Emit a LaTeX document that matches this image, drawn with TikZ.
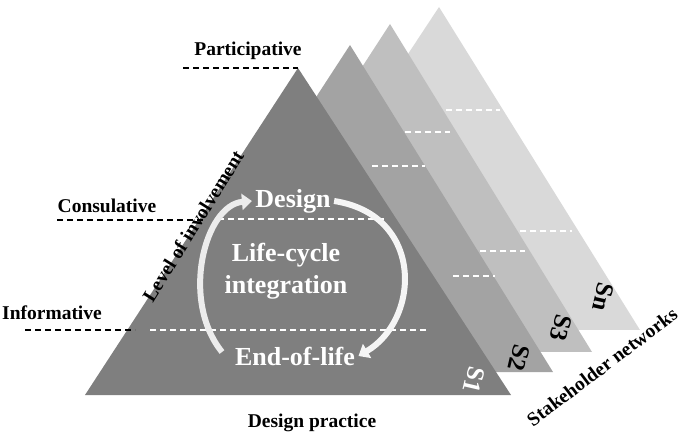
\documentclass[tikz,border=0pt]{standalone}
\usepackage{fontspec}
\setmainfont{Liberation Serif}
\usetikzlibrary{arrows.meta}
\definecolor{cA}{HTML}{7F7F7F}
\definecolor{cB}{HTML}{A3A3A3}
\definecolor{cC}{HTML}{BFBFBF}
\definecolor{cD}{HTML}{D9D9D9}
\begin{document}
\begin{tikzpicture}[x=1pt,y=-1pt,
  wd/.style={white,dashed,line width=1.3pt,dash pattern=on 6pt off 4pt},
  bd/.style={black,dashed,line width=1.5pt,dash pattern=on 6pt off 4pt},
  lbl/.style={font=\bfseries\fontsize{19.5}{22}\selectfont,inner sep=0pt},
  wl/.style={font=\bfseries\fontsize{26}{32}\selectfont,text=white},
  sl/.style={font=\bfseries\fontsize{25}{27}\selectfont,rotate=-103}]
\useasboundingbox (0,0) rectangle (685,435);
\fill[cD] (439,7) -- (640,330) -- (226,330) -- cycle;
\fill[cC] (390,24) -- (592,352) -- (177,352) -- cycle;
\fill[cB] (350,45) -- (553,372) -- (137,372) -- cycle;
\draw[wd] (446,110) -- (500,110) (520,231) -- (572,231);
\draw[wd] (405,132) -- (450,132) (480,251) -- (525,251);
\draw[wd] (372,166) -- (425,166) (453,276) -- (495,276);
\fill[cA] (298,68) -- (511,395) -- (85,395) -- cycle;
\draw[wd] (218,219) -- (385,219);
\draw[wd] (150,330) -- (428,330);
\draw[bd] (183,68) -- (298,68);
\draw[bd] (57,220) -- (205,220);
\draw[bd] (25,330) -- (135,330);
\node[lbl] (p) at (248,51) {Participative};
\node[lbl] (c) at (107,206) {Consulative};
\node[lbl] (i) at (52,313) {Informative};
\node[lbl,rotate=58] (lv) at (193,226) {Level of involvement};
\node[lbl] (dp) at (312,423) {Design practice};
\node[lbl,rotate=37] (sn) at (602,367) {Stakeholder networks};
\node[wl] (d) at (293,201) {Design};
\node[wl,align=center] (lc) at (286,271) {Life-cycle\\integration};
\node[wl] (e) at (295,356) {End-of-life};
\draw[line width=6pt,white!85!gray,-{Triangle[length=10pt,width=16pt]}] (222,352) .. controls (180,300) and (205,205) .. (d.west);
\draw[line width=6pt,white!92!gray,-{Triangle[length=10pt,width=16pt]}] (d.east) .. controls (425,215) and (420,320) .. (e.east);
\node[sl,text=white] (s1) at (474,380) {S1};
\node[sl] (s2) at (519,358) {S2};
\node[sl] (s3) at (561,328) {S3};
\node[sl] (s4) at (603,297) {Sn};
\end{tikzpicture}
\end{document}
